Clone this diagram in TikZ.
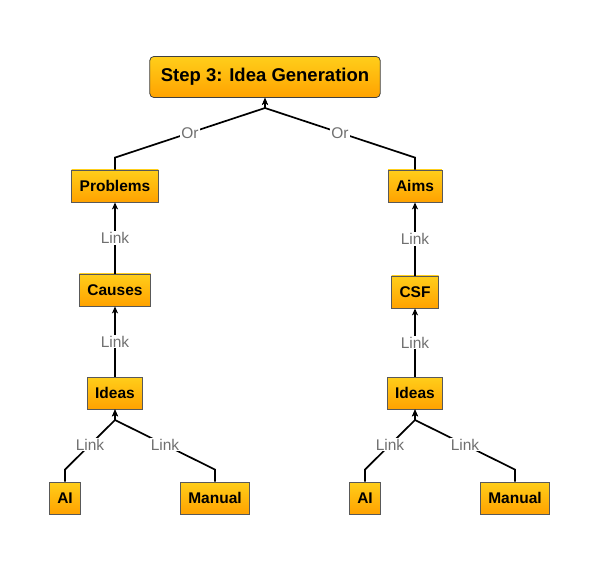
\documentclass[tikz,border=0pt]{standalone}
\usepackage{fontspec}
\setmainfont{Liberation Sans}
\usetikzlibrary{arrows.meta}
\definecolor{boxtop}{HTML}{FFCE1A}
\definecolor{boxbot}{HTML}{FFA200}
\definecolor{linkgray}{HTML}{707070}
\tikzset{
  box/.style={draw=black!65,line width=0.8pt,top color=boxtop,bottom color=boxbot,
    font=\fontsize{15.5}{18}\selectfont\bfseries,inner xsep=8pt,inner ysep=0pt,
    minimum height=32pt},
  titlebox/.style={box,rounded corners=4pt,draw=black!75,
    font=\fontsize{18.5}{22}\selectfont\bfseries,inner xsep=11pt,minimum height=41pt},
  link/.style={line width=1.7pt,-{Stealth[length=7pt,width=6pt,inset=2pt]}},
  lbl/.style={fill=white,text=linkgray,font=\fontsize{15.5}{18}\selectfont,inner sep=1pt}
}
\begin{document}
\begin{tikzpicture}[x=1pt,y=-1pt]
\useasboundingbox (0,0) rectangle (614,567);
% top
\node[titlebox] (step) at (265,77) {Step 3: Idea Generation};
\coordinate (top) at (265,108);
% left tree
\node[box] (prob) at (115,186) {Problems};
\node[box] (causes) at (115,290) {Causes};
\node[box] (ideasL) at (115,393) {Ideas};
\node[box] (aiL) at (65,498) {AI};
\node[box] (manL) at (215,498) {Manual};
\coordinate (jL) at (115,420);
% right tree
\node[box] (aims) at (415,186) {Aims};
\node[box] (csf) at (415,292) {CSF};
\node[box] (ideasR) at (415,393) {Ideas};
\node[box] (aiR) at (365,498) {AI};
\node[box] (manR) at (515,498) {Manual};
\coordinate (jR) at (415,420);
% or links
\draw[link] (prob.north) -- ++(0,-12) -- node[lbl]{Or} (top) -- (step.south);
\draw[link] (aims.north) -- ++(0,-12) -- node[lbl]{Or} (top) -- (step.south);
% chains
\draw[link] (causes) -- node[lbl]{Link} (prob);
\draw[link] (ideasL) -- node[lbl]{Link} (causes);
\draw[link] (csf) -- node[lbl]{Link} (aims);
\draw[link] (ideasR) -- node[lbl]{Link} (csf);
% sources
\draw[link] (aiL.north) -- ++(0,-12) -- node[lbl]{Link} (jL) -- (ideasL.south);
\draw[link] (manL.north) -- ++(0,-12) -- node[lbl]{Link} (jL) -- (ideasL.south);
\draw[link] (aiR.north) -- ++(0,-12) -- node[lbl]{Link} (jR) -- (ideasR.south);
\draw[link] (manR.north) -- ++(0,-12) -- node[lbl]{Link} (jR) -- (ideasR.south);
\end{tikzpicture}
\end{document}
